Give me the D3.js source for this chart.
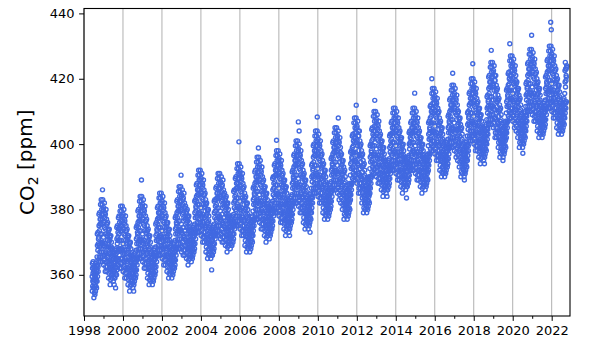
<!DOCTYPE html>
<html><head><meta charset="utf-8">
<script src="https://cdn.jsdelivr.net/npm/d3@7"></script>
<style>body{margin:0;background:#fff} svg{display:block} text{font-family:"DejaVu Sans",sans-serif}</style>
</head><body><svg id="c" width="600" height="360"></svg>
<script>
// ---- data (CO2 in ppm; each group of 6 = one month) ----
const years = [1998,1999,2000,2001,2002,2003,2004,2005,2006,2007,2008,2009,2010,2011,2012,2013,2014,2015,2016,2017,2018,2019,2020,2021,2022];
const firstMonth = [5,0,0,0,0,0,0,0,0,0,0,0,0,0,0,0,0,0,0,0,0,0,0,0,0]; // 1998 starts in June
const sampleDaysA = [3,8,13,18,23,28];
const sampleDaysB = [1,6,11,16,21,26];
const xTicks = [1998,2000,2002,2004,2006,2008,2010,2012,2014,2016,2018,2020,2022];
const xMinorTicks = [1999,2001,2003,2005,2007,2009,2011,2013,2015,2017,2019,2021];
const yTicks = [360,380,400,420,440];

// sample set A
const co2_1998 = [355,362,358,364,356,361, 353,360,356,362,354,359, 355,362,358,364,356,361, 358,369,363,373,361,371, 364,375,369,379,367,377, 364,377,370,383,367,380, 364,377,370,383,367,380];
const co2_1999 = [363,376,369,382,366,379, 361,374,367,380,364,377, 361,372,366,376,364,374, 359,370,364,374,362,372, 357,368,362,372,360,370, 359,366,362,368,360,365, 358,365,361,367,359,364, 359,366,362,368,360,365, 360,371,365,375,363,373, 363,374,368,378,366,376, 362,375,368,381,365,378, 362,375,368,381,365,378];
const co2_2000 = [361,374,367,380,364,377, 359,372,365,378,362,375, 359,370,364,374,362,372, 357,368,362,372,360,370, 355,366,360,370,358,368, 357,364,360,366,358,363, 356,363,359,365,357,362, 358,365,361,367,359,364, 360,371,365,375,363,373, 365,376,370,380,368,378, 365,378,371,384,368,381, 365,378,371,384,368,381];
const co2_2001 = [364,377,370,383,367,380, 362,375,368,381,365,378, 362,373,367,377,365,375, 359,370,364,374,362,372, 357,368,362,372,360,370, 358,365,361,367,359,364, 357,364,360,366,358,363, 359,366,362,368,360,365, 361,372,366,376,364,374, 366,377,371,381,369,379, 366,379,372,385,369,382, 366,379,372,385,369,382];
const co2_2002 = [365,378,371,384,368,381, 363,376,369,382,366,379, 363,374,368,378,366,376, 361,372,366,376,364,374, 359,370,364,374,362,372, 360,367,363,369,361,366, 359,366,362,368,360,365, 361,368,364,370,362,367, 363,374,368,378,366,376, 368,379,373,383,371,381, 368,381,374,387,371,384, 368,381,374,387,371,384];
const co2_2003 = [367,380,373,386,370,383, 366,379,372,385,369,382, 366,377,371,381,369,379, 365,376,370,380,368,378, 363,374,368,378,366,376, 365,372,368,374,366,371, 364,371,367,373,365,370, 366,373,369,375,367,372, 368,379,373,383,371,381, 373,384,378,388,376,386, 373,386,379,392,376,389, 373,386,379,392,376,389];
const co2_2004 = [372,385,378,391,375,388, 370,383,376,389,373,386, 370,381,375,385,373,383, 367,378,372,382,370,380, 365,376,370,380,368,378, 366,373,369,375,367,372, 365,372,368,374,366,371, 366,373,369,375,367,372, 368,379,373,383,371,381, 372,383,377,387,375,385, 372,385,378,391,375,388, 372,385,378,391,375,388];
const co2_2005 = [371,384,377,390,374,387, 370,383,376,389,373,386, 370,381,375,385,373,383, 369,380,374,384,372,382, 367,378,372,382,370,380, 369,376,372,378,370,375, 368,375,371,377,369,374, 369,376,372,378,370,375, 371,382,376,386,374,384, 375,386,380,390,378,388, 375,388,381,394,378,391, 375,388,381,394,378,391];
const co2_2006 = [374,387,380,393,377,390, 372,385,378,391,375,388, 372,383,377,387,375,385, 369,380,374,384,372,382, 367,378,372,382,370,380, 368,375,371,377,369,374, 367,374,370,376,368,373, 369,376,372,378,370,375, 372,383,377,387,375,385, 377,388,382,392,380,390, 377,390,383,396,380,393, 377,390,383,396,380,393];
const co2_2007 = [376,389,382,395,379,392, 374,387,380,393,377,390, 374,385,379,389,377,387, 372,383,377,387,375,385, 370,381,375,385,373,383, 372,379,375,381,373,378, 371,378,374,380,372,377, 373,380,376,382,374,379, 375,386,380,390,378,388, 379,390,384,394,382,392, 379,392,385,398,382,395, 379,392,385,398,382,395];
const co2_2008 = [378,391,384,397,381,394, 376,389,382,395,379,392, 376,387,381,391,379,389, 374,385,379,389,377,387, 372,383,377,387,375,385, 374,381,377,383,375,380, 373,380,376,382,374,379, 375,382,378,384,376,381, 377,388,382,392,380,390, 382,393,387,397,385,395, 382,395,388,401,385,398, 382,395,388,401,385,398];
const co2_2009 = [381,394,387,400,384,397, 379,392,385,398,382,395, 379,390,384,394,382,392, 376,387,381,391,379,389, 374,385,379,389,377,387, 375,382,378,384,376,381, 374,381,377,383,375,380, 376,383,379,385,377,382, 379,390,384,394,382,392, 385,396,390,400,388,398, 385,398,391,404,388,401, 385,398,391,404,388,401];
const co2_2010 = [384,397,390,403,387,400, 382,395,388,401,385,398, 382,393,387,397,385,395, 379,390,384,394,382,392, 377,388,382,392,380,390, 378,385,381,387,379,384, 377,384,380,386,378,383, 379,386,382,388,380,385, 381,392,386,396,384,394, 386,397,391,401,389,399, 386,399,392,405,389,402, 386,399,392,405,389,402];
const co2_2011 = [385,398,391,404,388,401, 383,396,389,402,386,399, 382,393,387,397,385,395, 380,391,385,395,383,393, 377,388,382,392,380,390, 378,385,381,387,379,384, 377,384,380,386,378,383, 379,386,382,388,380,385, 383,394,388,398,386,396, 388,399,393,403,391,401, 389,402,395,408,392,405, 389,402,395,408,392,405];
const co2_2012 = [388,401,394,407,391,404, 385,398,391,404,388,401, 385,396,390,400,388,398, 382,393,387,397,385,395, 379,390,384,394,382,392, 380,387,383,389,381,386, 379,386,382,388,380,385, 381,388,384,390,382,387, 385,396,390,400,388,398, 390,401,395,405,393,403, 391,404,397,410,394,407, 391,404,397,410,394,407];
const co2_2013 = [390,403,396,409,393,406, 388,401,394,407,391,404, 388,399,393,403,391,401, 386,397,391,401,389,399, 384,395,389,399,387,397, 386,393,389,395,387,392, 385,392,388,394,386,391, 386,393,389,395,387,392, 388,399,393,403,391,401, 392,403,397,407,395,405, 392,405,398,411,395,408, 392,405,398,411,395,408];
const co2_2014 = [391,404,397,410,394,407, 389,402,395,408,392,405, 389,400,394,404,392,402, 387,398,392,402,390,400, 385,396,390,400,388,398, 387,394,390,396,388,393, 386,393,389,395,387,392, 387,394,390,396,388,393, 389,400,394,404,392,402, 392,403,397,407,395,405, 392,405,398,411,395,408, 392,405,398,411,395,408];
const co2_2015 = [391,404,397,410,394,407, 389,402,395,408,392,405, 389,400,394,404,392,402, 387,398,392,402,390,400, 385,396,390,400,388,398, 387,394,390,396,388,393, 386,393,389,395,387,392, 388,395,391,397,389,394, 392,403,397,407,395,405, 397,408,402,412,400,410, 398,411,404,417,401,414, 398,411,404,417,401,414];
const co2_2016 = [397,410,403,416,400,413, 395,408,401,414,398,411, 395,406,400,410,398,408, 392,403,397,407,395,405, 390,401,395,405,393,403, 391,398,394,400,392,397, 390,397,393,399,391,396, 392,399,395,401,393,398, 394,405,399,409,397,407, 399,410,404,414,402,412, 399,412,405,418,402,415, 399,412,405,418,402,415];
const co2_2017 = [398,411,404,417,401,414, 396,409,402,415,399,412, 395,406,400,410,398,408, 393,404,398,408,396,406, 390,401,395,405,393,403, 391,398,394,400,392,397, 390,397,393,399,391,396, 392,399,395,401,393,398, 395,406,400,410,398,408, 401,412,406,416,404,414, 401,414,407,420,404,417, 401,414,407,420,404,417];
const co2_2018 = [400,413,406,419,403,416, 398,411,404,417,401,414, 398,409,403,413,401,411, 396,407,401,411,399,409, 394,405,399,409,397,407, 396,403,399,405,397,402, 395,402,398,404,396,401, 397,404,400,406,398,403, 400,411,405,415,403,413, 406,417,411,421,409,419, 406,419,412,425,409,422, 406,419,412,425,409,422];
const co2_2019 = [405,418,411,424,408,421, 402,415,408,421,405,418, 402,413,407,417,405,415, 399,410,404,414,402,412, 396,407,401,411,399,409, 397,404,400,406,398,403, 396,403,399,405,397,402, 398,405,401,407,399,404, 402,413,407,417,405,415, 407,418,412,422,410,420, 408,421,414,427,411,424, 408,421,414,427,411,424];
const co2_2020 = [407,420,413,426,410,423, 405,418,411,424,408,421, 404,415,409,419,407,417, 402,413,407,417,405,415, 399,410,404,414,402,412, 400,407,403,409,401,406, 399,406,402,408,400,405, 401,408,404,410,402,407, 404,415,409,419,407,417, 410,421,415,425,413,423, 410,423,416,429,413,426, 410,423,416,429,413,426];
const co2_2021 = [409,422,415,428,412,425, 407,420,413,426,410,423, 407,418,412,422,410,420, 404,415,409,419,407,417, 402,413,407,417,405,415, 403,410,406,412,404,409, 402,409,405,411,403,408, 404,411,407,413,405,410, 406,417,411,421,409,419, 411,422,416,426,414,424, 411,424,417,430,414,427, 411,424,417,430,414,427];
const co2_2022 = [410,423,416,429,413,426, 408,421,414,427,411,424, 408,419,413,423,411,421, 405,416,410,420,408,418, 403,414,408,418,406,416, 404,411,407,413,405,410, 403,410,406,412,404,409, 405,412,408,414,406,411, 408,419,413,423,411,421, 413,424];

// sample set B
const co2b_1998 = [359.5,363.5,356.5,360.5,358.5,362.5, 357.5,361.5,354.5,358.5,356.5,360.5, 359.5,363.5,356.5,360.5,358.5,362.5, 365.5,372.5,359.5,367.5,362.5,369.5, 371.5,378.5,365.5,373.5,368.5,375.5, 372.5,381.5,365.5,375.5,369.5,378.5, 372.5,381.5,365.5,375.5,369.5,378.5];
const co2b_1999 = [371.5,380.5,364.5,374.5,368.5,377.5, 369.5,378.5,362.5,372.5,366.5,375.5, 368.5,375.5,362.5,370.5,365.5,372.5, 366.5,373.5,360.5,368.5,363.5,370.5, 364.5,371.5,358.5,366.5,361.5,368.5, 363.5,367.5,360.5,364.5,362.5,366.5, 362.5,366.5,359.5,363.5,361.5,365.5, 363.5,367.5,360.5,364.5,362.5,366.5, 367.5,374.5,361.5,369.5,364.5,371.5, 370.5,377.5,364.5,372.5,367.5,374.5, 370.5,379.5,363.5,373.5,367.5,376.5, 370.5,379.5,363.5,373.5,367.5,376.5];
const co2b_2000 = [369.5,378.5,362.5,372.5,366.5,375.5, 367.5,376.5,360.5,370.5,364.5,373.5, 366.5,373.5,360.5,368.5,363.5,370.5, 364.5,371.5,358.5,366.5,361.5,368.5, 362.5,369.5,356.5,364.5,359.5,366.5, 361.5,365.5,358.5,362.5,360.5,364.5, 360.5,364.5,357.5,361.5,359.5,363.5, 362.5,366.5,359.5,363.5,361.5,365.5, 367.5,374.5,361.5,369.5,364.5,371.5, 372.5,379.5,366.5,374.5,369.5,376.5, 373.5,382.5,366.5,376.5,370.5,379.5, 373.5,382.5,366.5,376.5,370.5,379.5];
const co2b_2001 = [372.5,381.5,365.5,375.5,369.5,378.5, 370.5,379.5,363.5,373.5,367.5,376.5, 369.5,376.5,363.5,371.5,366.5,373.5, 366.5,373.5,360.5,368.5,363.5,370.5, 364.5,371.5,358.5,366.5,361.5,368.5, 362.5,366.5,359.5,363.5,361.5,365.5, 361.5,365.5,358.5,362.5,360.5,364.5, 363.5,367.5,360.5,364.5,362.5,366.5, 368.5,375.5,362.5,370.5,365.5,372.5, 373.5,380.5,367.5,375.5,370.5,377.5, 374.5,383.5,367.5,377.5,371.5,380.5, 374.5,383.5,367.5,377.5,371.5,380.5];
const co2b_2002 = [373.5,382.5,366.5,376.5,370.5,379.5, 371.5,380.5,364.5,374.5,368.5,377.5, 370.5,377.5,364.5,372.5,367.5,374.5, 368.5,375.5,362.5,370.5,365.5,372.5, 366.5,373.5,360.5,368.5,363.5,370.5, 364.5,368.5,361.5,365.5,363.5,367.5, 363.5,367.5,360.5,364.5,362.5,366.5, 365.5,369.5,362.5,366.5,364.5,368.5, 370.5,377.5,364.5,372.5,367.5,374.5, 375.5,382.5,369.5,377.5,372.5,379.5, 376.5,385.5,369.5,379.5,373.5,382.5, 376.5,385.5,369.5,379.5,373.5,382.5];
const co2b_2003 = [375.5,384.5,368.5,378.5,372.5,381.5, 374.5,383.5,367.5,377.5,371.5,380.5, 373.5,380.5,367.5,375.5,370.5,377.5, 372.5,379.5,366.5,374.5,369.5,376.5, 370.5,377.5,364.5,372.5,367.5,374.5, 369.5,373.5,366.5,370.5,368.5,372.5, 368.5,372.5,365.5,369.5,367.5,371.5, 370.5,374.5,367.5,371.5,369.5,373.5, 375.5,382.5,369.5,377.5,372.5,379.5, 380.5,387.5,374.5,382.5,377.5,384.5, 381.5,390.5,374.5,384.5,378.5,387.5, 381.5,390.5,374.5,384.5,378.5,387.5];
const co2b_2004 = [380.5,389.5,373.5,383.5,377.5,386.5, 378.5,387.5,371.5,381.5,375.5,384.5, 377.5,384.5,371.5,379.5,374.5,381.5, 374.5,381.5,368.5,376.5,371.5,378.5, 372.5,379.5,366.5,374.5,369.5,376.5, 370.5,374.5,367.5,371.5,369.5,373.5, 369.5,373.5,366.5,370.5,368.5,372.5, 370.5,374.5,367.5,371.5,369.5,373.5, 375.5,382.5,369.5,377.5,372.5,379.5, 379.5,386.5,373.5,381.5,376.5,383.5, 380.5,389.5,373.5,383.5,377.5,386.5, 380.5,389.5,373.5,383.5,377.5,386.5];
const co2b_2005 = [379.5,388.5,372.5,382.5,376.5,385.5, 378.5,387.5,371.5,381.5,375.5,384.5, 377.5,384.5,371.5,379.5,374.5,381.5, 376.5,383.5,370.5,378.5,373.5,380.5, 374.5,381.5,368.5,376.5,371.5,378.5, 373.5,377.5,370.5,374.5,372.5,376.5, 372.5,376.5,369.5,373.5,371.5,375.5, 373.5,377.5,370.5,374.5,372.5,376.5, 378.5,385.5,372.5,380.5,375.5,382.5, 382.5,389.5,376.5,384.5,379.5,386.5, 383.5,392.5,376.5,386.5,380.5,389.5, 383.5,392.5,376.5,386.5,380.5,389.5];
const co2b_2006 = [382.5,391.5,375.5,385.5,379.5,388.5, 380.5,389.5,373.5,383.5,377.5,386.5, 379.5,386.5,373.5,381.5,376.5,383.5, 376.5,383.5,370.5,378.5,373.5,380.5, 374.5,381.5,368.5,376.5,371.5,378.5, 372.5,376.5,369.5,373.5,371.5,375.5, 371.5,375.5,368.5,372.5,370.5,374.5, 373.5,377.5,370.5,374.5,372.5,376.5, 379.5,386.5,373.5,381.5,376.5,383.5, 384.5,391.5,378.5,386.5,381.5,388.5, 385.5,394.5,378.5,388.5,382.5,391.5, 385.5,394.5,378.5,388.5,382.5,391.5];
const co2b_2007 = [384.5,393.5,377.5,387.5,381.5,390.5, 382.5,391.5,375.5,385.5,379.5,388.5, 381.5,388.5,375.5,383.5,378.5,385.5, 379.5,386.5,373.5,381.5,376.5,383.5, 377.5,384.5,371.5,379.5,374.5,381.5, 376.5,380.5,373.5,377.5,375.5,379.5, 375.5,379.5,372.5,376.5,374.5,378.5, 377.5,381.5,374.5,378.5,376.5,380.5, 382.5,389.5,376.5,384.5,379.5,386.5, 386.5,393.5,380.5,388.5,383.5,390.5, 387.5,396.5,380.5,390.5,384.5,393.5, 387.5,396.5,380.5,390.5,384.5,393.5];
const co2b_2008 = [386.5,395.5,379.5,389.5,383.5,392.5, 384.5,393.5,377.5,387.5,381.5,390.5, 383.5,390.5,377.5,385.5,380.5,387.5, 381.5,388.5,375.5,383.5,378.5,385.5, 379.5,386.5,373.5,381.5,376.5,383.5, 378.5,382.5,375.5,379.5,377.5,381.5, 377.5,381.5,374.5,378.5,376.5,380.5, 379.5,383.5,376.5,380.5,378.5,382.5, 384.5,391.5,378.5,386.5,381.5,388.5, 389.5,396.5,383.5,391.5,386.5,393.5, 390.5,399.5,383.5,393.5,387.5,396.5, 390.5,399.5,383.5,393.5,387.5,396.5];
const co2b_2009 = [389.5,398.5,382.5,392.5,386.5,395.5, 387.5,396.5,380.5,390.5,384.5,393.5, 386.5,393.5,380.5,388.5,383.5,390.5, 383.5,390.5,377.5,385.5,380.5,387.5, 381.5,388.5,375.5,383.5,378.5,385.5, 379.5,383.5,376.5,380.5,378.5,382.5, 378.5,382.5,375.5,379.5,377.5,381.5, 380.5,384.5,377.5,381.5,379.5,383.5, 386.5,393.5,380.5,388.5,383.5,390.5, 392.5,399.5,386.5,394.5,389.5,396.5, 393.5,402.5,386.5,396.5,390.5,399.5, 393.5,402.5,386.5,396.5,390.5,399.5];
const co2b_2010 = [392.5,401.5,385.5,395.5,389.5,398.5, 390.5,399.5,383.5,393.5,387.5,396.5, 389.5,396.5,383.5,391.5,386.5,393.5, 386.5,393.5,380.5,388.5,383.5,390.5, 384.5,391.5,378.5,386.5,381.5,388.5, 382.5,386.5,379.5,383.5,381.5,385.5, 381.5,385.5,378.5,382.5,380.5,384.5, 383.5,387.5,380.5,384.5,382.5,386.5, 388.5,395.5,382.5,390.5,385.5,392.5, 393.5,400.5,387.5,395.5,390.5,397.5, 394.5,403.5,387.5,397.5,391.5,400.5, 394.5,403.5,387.5,397.5,391.5,400.5];
const co2b_2011 = [393.5,402.5,386.5,396.5,390.5,399.5, 391.5,400.5,384.5,394.5,388.5,397.5, 389.5,396.5,383.5,391.5,386.5,393.5, 387.5,394.5,381.5,389.5,384.5,391.5, 384.5,391.5,378.5,386.5,381.5,388.5, 382.5,386.5,379.5,383.5,381.5,385.5, 381.5,385.5,378.5,382.5,380.5,384.5, 383.5,387.5,380.5,384.5,382.5,386.5, 390.5,397.5,384.5,392.5,387.5,394.5, 395.5,402.5,389.5,397.5,392.5,399.5, 397.5,406.5,390.5,400.5,394.5,403.5, 397.5,406.5,390.5,400.5,394.5,403.5];
const co2b_2012 = [396.5,405.5,389.5,399.5,393.5,402.5, 393.5,402.5,386.5,396.5,390.5,399.5, 392.5,399.5,386.5,394.5,389.5,396.5, 389.5,396.5,383.5,391.5,386.5,393.5, 386.5,393.5,380.5,388.5,383.5,390.5, 384.5,388.5,381.5,385.5,383.5,387.5, 383.5,387.5,380.5,384.5,382.5,386.5, 385.5,389.5,382.5,386.5,384.5,388.5, 392.5,399.5,386.5,394.5,389.5,396.5, 397.5,404.5,391.5,399.5,394.5,401.5, 399.5,408.5,392.5,402.5,396.5,405.5, 399.5,408.5,392.5,402.5,396.5,405.5];
const co2b_2013 = [398.5,407.5,391.5,401.5,395.5,404.5, 396.5,405.5,389.5,399.5,393.5,402.5, 395.5,402.5,389.5,397.5,392.5,399.5, 393.5,400.5,387.5,395.5,390.5,397.5, 391.5,398.5,385.5,393.5,388.5,395.5, 390.5,394.5,387.5,391.5,389.5,393.5, 389.5,393.5,386.5,390.5,388.5,392.5, 390.5,394.5,387.5,391.5,389.5,393.5, 395.5,402.5,389.5,397.5,392.5,399.5, 399.5,406.5,393.5,401.5,396.5,403.5, 400.5,409.5,393.5,403.5,397.5,406.5, 400.5,409.5,393.5,403.5,397.5,406.5];
const co2b_2014 = [399.5,408.5,392.5,402.5,396.5,405.5, 397.5,406.5,390.5,400.5,394.5,403.5, 396.5,403.5,390.5,398.5,393.5,400.5, 394.5,401.5,388.5,396.5,391.5,398.5, 392.5,399.5,386.5,394.5,389.5,396.5, 391.5,395.5,388.5,392.5,390.5,394.5, 390.5,394.5,387.5,391.5,389.5,393.5, 391.5,395.5,388.5,392.5,390.5,394.5, 396.5,403.5,390.5,398.5,393.5,400.5, 399.5,406.5,393.5,401.5,396.5,403.5, 400.5,409.5,393.5,403.5,397.5,406.5, 400.5,409.5,393.5,403.5,397.5,406.5];
const co2b_2015 = [399.5,408.5,392.5,402.5,396.5,405.5, 397.5,406.5,390.5,400.5,394.5,403.5, 396.5,403.5,390.5,398.5,393.5,400.5, 394.5,401.5,388.5,396.5,391.5,398.5, 392.5,399.5,386.5,394.5,389.5,396.5, 391.5,395.5,388.5,392.5,390.5,394.5, 390.5,394.5,387.5,391.5,389.5,393.5, 392.5,396.5,389.5,393.5,391.5,395.5, 399.5,406.5,393.5,401.5,396.5,403.5, 404.5,411.5,398.5,406.5,401.5,408.5, 406.5,415.5,399.5,409.5,403.5,412.5, 406.5,415.5,399.5,409.5,403.5,412.5];
const co2b_2016 = [405.5,414.5,398.5,408.5,402.5,411.5, 403.5,412.5,396.5,406.5,400.5,409.5, 402.5,409.5,396.5,404.5,399.5,406.5, 399.5,406.5,393.5,401.5,396.5,403.5, 397.5,404.5,391.5,399.5,394.5,401.5, 395.5,399.5,392.5,396.5,394.5,398.5, 394.5,398.5,391.5,395.5,393.5,397.5, 396.5,400.5,393.5,397.5,395.5,399.5, 401.5,408.5,395.5,403.5,398.5,405.5, 406.5,413.5,400.5,408.5,403.5,410.5, 407.5,416.5,400.5,410.5,404.5,413.5, 407.5,416.5,400.5,410.5,404.5,413.5];
const co2b_2017 = [406.5,415.5,399.5,409.5,403.5,412.5, 404.5,413.5,397.5,407.5,401.5,410.5, 402.5,409.5,396.5,404.5,399.5,406.5, 400.5,407.5,394.5,402.5,397.5,404.5, 397.5,404.5,391.5,399.5,394.5,401.5, 395.5,399.5,392.5,396.5,394.5,398.5, 394.5,398.5,391.5,395.5,393.5,397.5, 396.5,400.5,393.5,397.5,395.5,399.5, 402.5,409.5,396.5,404.5,399.5,406.5, 408.5,415.5,402.5,410.5,405.5,412.5, 409.5,418.5,402.5,412.5,406.5,415.5, 409.5,418.5,402.5,412.5,406.5,415.5];
const co2b_2018 = [408.5,417.5,401.5,411.5,405.5,414.5, 406.5,415.5,399.5,409.5,403.5,412.5, 405.5,412.5,399.5,407.5,402.5,409.5, 403.5,410.5,397.5,405.5,400.5,407.5, 401.5,408.5,395.5,403.5,398.5,405.5, 400.5,404.5,397.5,401.5,399.5,403.5, 399.5,403.5,396.5,400.5,398.5,402.5, 401.5,405.5,398.5,402.5,400.5,404.5, 407.5,414.5,401.5,409.5,404.5,411.5, 413.5,420.5,407.5,415.5,410.5,417.5, 414.5,423.5,407.5,417.5,411.5,420.5, 414.5,423.5,407.5,417.5,411.5,420.5];
const co2b_2019 = [413.5,422.5,406.5,416.5,410.5,419.5, 410.5,419.5,403.5,413.5,407.5,416.5, 409.5,416.5,403.5,411.5,406.5,413.5, 406.5,413.5,400.5,408.5,403.5,410.5, 403.5,410.5,397.5,405.5,400.5,407.5, 401.5,405.5,398.5,402.5,400.5,404.5, 400.5,404.5,397.5,401.5,399.5,403.5, 402.5,406.5,399.5,403.5,401.5,405.5, 409.5,416.5,403.5,411.5,406.5,413.5, 414.5,421.5,408.5,416.5,411.5,418.5, 416.5,425.5,409.5,419.5,413.5,422.5, 416.5,425.5,409.5,419.5,413.5,422.5];
const co2b_2020 = [415.5,424.5,408.5,418.5,412.5,421.5, 413.5,422.5,406.5,416.5,410.5,419.5, 411.5,418.5,405.5,413.5,408.5,415.5, 409.5,416.5,403.5,411.5,406.5,413.5, 406.5,413.5,400.5,408.5,403.5,410.5, 404.5,408.5,401.5,405.5,403.5,407.5, 403.5,407.5,400.5,404.5,402.5,406.5, 405.5,409.5,402.5,406.5,404.5,408.5, 411.5,418.5,405.5,413.5,408.5,415.5, 417.5,424.5,411.5,419.5,414.5,421.5, 418.5,427.5,411.5,421.5,415.5,424.5, 418.5,427.5,411.5,421.5,415.5,424.5];
const co2b_2021 = [417.5,426.5,410.5,420.5,414.5,423.5, 415.5,424.5,408.5,418.5,412.5,421.5, 414.5,421.5,408.5,416.5,411.5,418.5, 411.5,418.5,405.5,413.5,408.5,415.5, 409.5,416.5,403.5,411.5,406.5,413.5, 407.5,411.5,404.5,408.5,406.5,410.5, 406.5,410.5,403.5,407.5,405.5,409.5, 408.5,412.5,405.5,409.5,407.5,411.5, 413.5,420.5,407.5,415.5,410.5,417.5, 418.5,425.5,412.5,420.5,415.5,422.5, 419.5,428.5,412.5,422.5,416.5,425.5, 419.5,428.5,412.5,422.5,416.5,425.5];
const co2b_2022 = [418.5,427.5,411.5,421.5,415.5,424.5, 416.5,425.5,409.5,419.5,413.5,422.5, 415.5,422.5,409.5,417.5,412.5,419.5, 412.5,419.5,406.5,414.5,409.5,416.5, 410.5,417.5,404.5,412.5,407.5,414.5, 408.5,412.5,405.5,409.5,407.5,411.5, 407.5,411.5,404.5,408.5,406.5,410.5, 409.5,413.5,406.5,410.5,408.5,412.5, 415.5,422.5,409.5,417.5,412.5,419.5, 420.5,423.5];

// isolated high / low readings
const outlierYears = [1998.95,1999.55,1999.62,2000.55,2000.95,2002.98,2004.55,2005.95,2006.95,2007.88,2008.55,2009.0,2009.04,2009.6,2009.97,2011.05,2011.97,2012.92,2013.55,2014.55,2014.97,2015.85,2016.92,2017.52,2017.95,2018.55,2018.9,2019.5,2019.85,2020.52,2020.97,2021.95,2021.98,2022.7,2022.74];
const outlierValues = [386,357,356,355,389,390.5,361.5,400.7,398.8,401.2,372,406.8,404,373,408.3,408,411.9,413.4,384,383.5,415.6,420,421.7,389,424.6,394,428.7,395,430.7,397.2,433.3,437.3,435,425,423];

const setA = [co2_1998,co2_1999,co2_2000,co2_2001,co2_2002,co2_2003,co2_2004,co2_2005,co2_2006,co2_2007,co2_2008,co2_2009,co2_2010,co2_2011,co2_2012,co2_2013,co2_2014,co2_2015,co2_2016,co2_2017,co2_2018,co2_2019,co2_2020,co2_2021,co2_2022];
const setB = [co2b_1998,co2b_1999,co2b_2000,co2b_2001,co2b_2002,co2b_2003,co2b_2004,co2b_2005,co2b_2006,co2b_2007,co2b_2008,co2b_2009,co2b_2010,co2b_2011,co2b_2012,co2b_2013,co2b_2014,co2b_2015,co2b_2016,co2b_2017,co2b_2018,co2b_2019,co2b_2020,co2b_2021,co2b_2022];

// build points (decimal year, ppm)
const points = [];
function addSet(set, days) {
  years.forEach((yr, yi) => {
    set[yi].forEach((v, k) => {
      const m = firstMonth[yi] + Math.floor(k / days.length);
      const d = days[k % days.length];
      points.push({t: yr + (m + (d - 0.5) / 30.5) / 12, v: v});
    });
  });
}
addSet(setA, sampleDaysA);
addSet(setB, sampleDaysB);
outlierYears.forEach((t, i) => points.push({t: t, v: outlierValues[i]}));

// ---- layout ----
const L = 84, R = 570, T = 8.5, B = 316;
const svg = d3.select("#c");
const x = d3.scaleLinear().domain([1998, 2022.94]).range([L, R]);
const y = d3.scaleLinear().domain([347.4, 441.5]).range([B, T]);

// grid
svg.append("g").selectAll("line").data(xTicks).join("line")
  .attr("x1", d => x(d)).attr("x2", d => x(d))
  .attr("y1", T).attr("y2", B)
  .attr("stroke", "#b0b0b0").attr("stroke-width", 1);

// points
svg.append("g").selectAll("circle").data(points).join("circle")
  .attr("cx", d => x(d.t)).attr("cy", d => y(d.v))
  .attr("r", 2)
  .attr("fill", "none").attr("stroke", "#4169e1").attr("stroke-width", 1.4);

// axes
const fontSize = 13;
const xAxis = svg.append("g").attr("transform", `translate(0,${B})`)
  .call(d3.axisBottom(x).tickValues(xTicks).tickFormat(d3.format("d")).tickSize(4.9).tickPadding(4.5));
const xMinor = svg.append("g").attr("transform", `translate(0,${B})`)
  .call(d3.axisBottom(x).tickValues(xMinorTicks).tickFormat("").tickSize(2.8));
const yAxis = svg.append("g").attr("transform", `translate(${L},0)`)
  .call(d3.axisLeft(y).tickValues(yTicks).tickFormat(d3.format("d")).tickSize(4.9).tickPadding(4.5));

[xAxis, xMinor, yAxis].forEach(g => {
  g.select(".domain").remove();
  g.selectAll("line").attr("stroke", "#000").attr("stroke-width", 1);
  g.selectAll("text").attr("font-size", fontSize).attr("fill", "#000")
    .attr("font-family", "DejaVu Sans, sans-serif");
});

// frame
svg.append("rect").attr("x", L).attr("y", T).attr("width", R - L).attr("height", B - T)
  .attr("fill", "none").attr("stroke", "#000").attr("stroke-width", 1.1);

// y label
const yl = svg.append("text")
  .attr("transform", `translate(34,${(T + B) / 2}) rotate(-90)`)
  .attr("text-anchor", "middle")
  .attr("font-size", 20).attr("fill", "#000");
yl.append("tspan").text("CO");
yl.append("tspan").attr("font-size", 14).attr("dy", "0.3em").text("2");
yl.append("tspan").attr("dy", "-0.3em").text(" [ppm]");
</script></body></html>
